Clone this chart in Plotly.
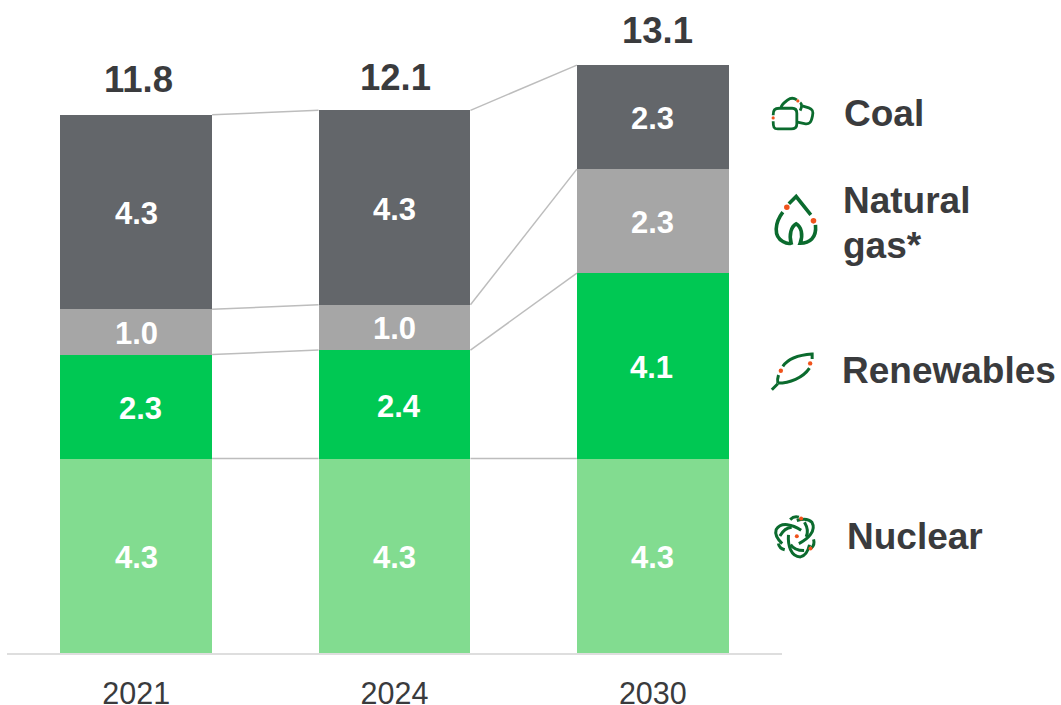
import re, math
import plotly.graph_objects as go

years = ["2021", "2024", "2030"]
nuclear = [4.3, 4.3, 4.3]
renewables = [2.3, 2.4, 4.1]
natural_gas = [1.0, 1.0, 2.3]
coal = [4.3, 4.3, 2.3]
totals = ["11.8", "12.1", "13.1"]
legend_labels = ["Coal", "Natural", "gas*", "Renewables", "Nuclear"]

W, H = 1061, 705
X0, X1, Y0 = 7, 782.5, 653.5      # plot area in page pixels
Y_TOP = 14.44
BAR_W = 0.588
TXT = "#3a3b3d"
FONT = "Liberation Sans, Arial, sans-serif"
GREEN = "#0b6b2e"
ORANGE = "#f0531c"

xs = list(range(len(years)))
series = [
    ("Nuclear", nuclear, "#82dc90"),
    ("Renewables", renewables, "#00c853"),
    ("Natural gas", natural_gas, "#a6a6a6"),
    ("Coal", coal, "#63666a"),
]

fig = go.Figure()
for name, vals, col in series:
    fig.add_trace(go.Bar(x=xs, y=vals, name=name, marker=dict(color=col, line=dict(width=0)),
                         width=BAR_W, showlegend=False, hoverinfo="x+y"))

# connectors between stacks
cum = [[0.0] * 3]
for _, vals, _c in series:
    cum.append([round(a + b, 2) for a, b in zip(cum[-1], vals)])
for level in cum[1:]:
    for i in range(2):
        fig.add_trace(go.Scatter(x=[xs[i] + BAR_W / 2, xs[i + 1] - BAR_W / 2], y=[level[i], level[i + 1]],
                                 mode="lines", line=dict(color="#bdbdbd", width=1.5),
                                 showlegend=False, hoverinfo="skip"))

ann = []
# small hand-placed nudges seen in the reference, per series / per bar
nudge_x = {"Renewables": [4, 4, -1]}
nudge_y = {"Nuclear": -2, "Renewables": -2, "Natural gas": -1.5, "Coal": -1.5}
base = cum[:-1]
for (name, vals, _c), b in zip(series, base):
    for i, v in enumerate(vals):
        ann.append(dict(x=xs[i], y=b[i] + v / 2, text=f"{v:.1f}", showarrow=False,
                        xshift=nudge_x.get(name, [0, 0, 0])[i], yshift=nudge_y.get(name, 0),
                        font=dict(family=FONT, size=31, color="white", weight="bold")))
tot_shift_y = [35, 33, 35]
tot_shift_x = [2, 1, 5]
for i, t in enumerate(totals):
    ann.append(dict(x=xs[i], y=cum[-1][i], text=t, showarrow=False,
                    yshift=tot_shift_y[i], xshift=tot_shift_x[i],
                    font=dict(family=FONT, size=36.5, color=TXT, weight="bold")))


def px(x, y):
    return (x - X0) / (X1 - X0), (Y0 - y) / Y0


leg_pos = [(845, 114), (844, 201), (844, 246), (843, 371), (848, 537)]
for lab, (x, y) in zip(legend_labels, leg_pos):
    fx, fy = px(x, y)
    ann.append(dict(xref="paper", yref="paper", x=fx, y=fy, text=lab, showarrow=False, xanchor="left",
                    yanchor="middle", align="left", xshift=-2,
                    font=dict(family=FONT, size=37, color=TXT, weight="bold")))

shapes = []


def icon_path(d, ox, oy, rot=0, c=(0, 0), width=2.8):
    """Icon outline given in 3x-zoom coordinates, placed at page offset ox, oy."""
    toks = re.findall(r"[MLCQ]|-?\d+\.?\d*", d)
    out, nums = [], []

    def flush():
        for j in range(0, len(nums), 2):
            x, y = nums[j], nums[j + 1]
            if rot:
                a = math.radians(rot)
                dx, dy = x - c[0], y - c[1]
                x = c[0] + dx * math.cos(a) - dy * math.sin(a)
                y = c[1] + dx * math.sin(a) + dy * math.cos(a)
            fx, fy = px(ox + x / 3, oy + y / 3)
            out.append(f"{fx:.5f},{fy:.5f}")
        nums.clear()

    for t in toks:
        if t in "MLCQ":
            flush()
            out.append(t)
        else:
            nums.append(float(t))
    flush()
    shapes.append(dict(type="path", xref="paper", yref="paper", path=" ".join(out),
                       line=dict(color=GREEN, width=width), layer="above"))


def dot(x, y, ox, oy, r=2.3):
    x0, y0 = px(ox + x / 3 - r, oy + y / 3 + r)
    x1, y1 = px(ox + x / 3 + r, oy + y / 3 - r)
    shapes.append(dict(type="circle", xref="paper", yref="paper", x0=x0, y0=y0, x1=x1, y1=y1,
                       fillcolor=ORANGE, line=dict(width=0), layer="above"))


# coal
o = (760, 80)
icon_path("M 41 106 C 41 90 45 85 60 85 L 98 85 C 110 85 112 92 112 100 L 112 132 C 112 143 105 147 95 147 "
          "L 55 147 C 43 147 41 142 41 124", *o)
icon_path("M 65 84 C 65 72 78 66 85 60 C 95 52 105 55 112 60", *o)
icon_path("M 122 68 C 130 74 126 84 122 92", *o)
icon_path("M 128 78 L 148 84 C 160 88 162 95 159 108 C 155 128 150 134 135 131 L 114 127", *o)
dot(115, 63, *o, r=1.6)
dot(41, 114, *o, r=1.6)
# flame
icon_path("M 88 372 L 110 350 L 154 405", *o, width=3.6)
icon_path("M 70 397 C 45 430 42 470 70 485 C 80 491 90 492 95 490 C 88 465 95 440 110 432 "
          "C 125 440 132 465 122 490 C 150 490 172 475 168 435", *o, width=3.6)
dot(82, 382, *o, r=2.8)
dot(162, 423, *o, r=2.8)
# leaf
o = (760, 340)
icon_path("M 37 150 L 55 132", *o, width=3)
icon_path("M 55 130 C 53 122 54 116 57 106", *o, width=3)
icon_path("M 70 80 C 90 50 130 45 158 43 L 158 58", *o, width=3)
icon_path("M 150 85 C 130 115 90 130 55 130", *o, width=3)
dot(64, 93, *o, r=2.2)
dot(152, 71, *o, r=2.2)
# nuclear
c = (110, 590)
for rot in (0, 120, 240):
    icon_path("M 125 572 C 100 555 65 545 50 570 C 45 585 55 600 68 612", *o, rot=rot, c=c, width=3)
    icon_path("M 92 540 C 100 532 110 530 118 533", *o, rot=rot, c=c, width=3)
    icon_path("M 135 548 C 145 565 146 580 140 592", *o, rot=rot, c=c, width=3)
dot(125, 537, *o, r=2)
dot(112, 590, *o, r=2)
dot(153, 627, *o, r=2)

fig.update_layout(
    width=W, height=H, autosize=False,
    margin=dict(l=X0, r=W - X1, t=0, b=H - Y0, autoexpand=False),
    barmode="stack", plot_bgcolor="white", paper_bgcolor="white",
    font=dict(family=FONT, color=TXT),
    annotations=ann, shapes=shapes,
    xaxis=dict(range=[-0.5, 2.5], tickmode="array", tickvals=xs, ticktext=years, showgrid=False, zeroline=False,
               showline=True, linecolor="#dedede", linewidth=2, ticks="outside", ticklen=12,
               tickcolor="rgba(0,0,0,0)", tickfont=dict(family=FONT, size=30.5, color=TXT)),
    yaxis=dict(range=[0, Y_TOP], visible=False, showgrid=False, zeroline=False),
)
fig.write_html("out.html", config={"displayModeBar": False},
               post_script="document.body.style.margin='0';document.body.style.overflow='hidden';")
